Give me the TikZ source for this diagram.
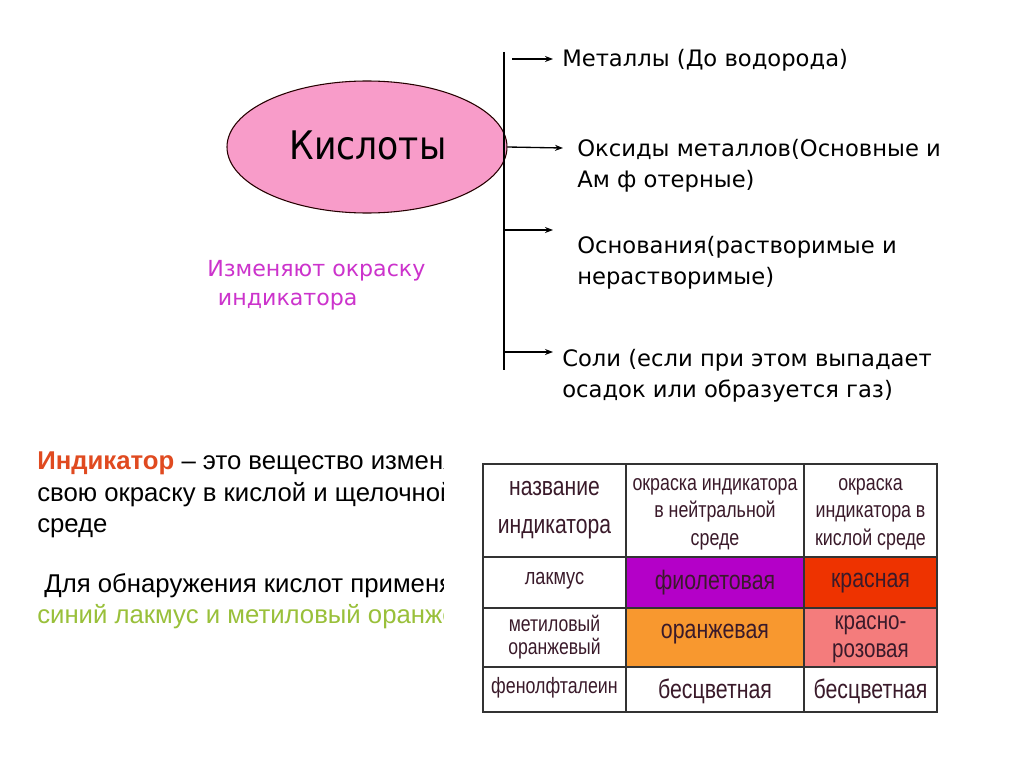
\documentclass[tikz,border=0pt]{standalone}
\usepackage{fontspec}
\setmainfont{Liberation Sans}
\newfontfamily\tah{DejaVu Sans}
\newfontfamily\tahn[FakeStretch=0.88]{DejaVu Sans}
\newfontfamily\nar[FakeStretch=0.8]{Liberation Sans}
\usetikzlibrary{arrows.meta,shapes.geometric}
\definecolor{pinkfill}{HTML}{F89CC9}
\definecolor{magtext}{HTML}{CC33CC}
\definecolor{redtext}{HTML}{E04A20}
\definecolor{greentext}{HTML}{99C03A}
\definecolor{cpurple}{HTML}{B400C8}
\definecolor{cred}{HTML}{EE3300}
\definecolor{corange}{HTML}{F8982F}
\definecolor{cpink}{HTML}{F47C7C}
\definecolor{celltext}{HTML}{3A1A2A}
\tikzset{
  arr/.style={line width=1pt,-{Stealth[length=6pt,width=4.5pt]}},
  rtext/.style={font=\tah\fontsize{17}{23.3}\selectfont,anchor=west,align=left,inner sep=0pt},
  ltext/.style={font=\fontsize{19.3}{23.3}\selectfont,anchor=north west,align=left,inner sep=0pt},
  tcell/.style={font=\nar\fontsize{16}{20}\selectfont,align=center,inner sep=0pt,text=celltext},
  grid/.style={line width=1.5pt,draw=black!80}
}
\begin{document}
\begin{tikzpicture}[x=0.75pt,y=-0.75pt]
\useasboundingbox[fill=white] (0,0) rectangle (1024,767);
% ellipse
\node[ellipse,draw=black!85!red,line width=0.8pt,fill=pinkfill,minimum width=210pt,minimum height=99pt,inner sep=0pt] (k) at (367,147) {};
\node[font=\tahn\fontsize{29.5}{34}\selectfont] (kt) at (368,145) {Кислоты};
% vertical line
\coordinate (vtop) at (504,52);
\coordinate (vbot) at (504,370);
\draw[line width=1pt] (vtop) -- (vbot);
\coordinate (s1) at (512,59); \coordinate (e1) at (553,59);
\coordinate (e2) at (563,148);
\coordinate (s3) at (505,230); \coordinate (e3) at (553,230);
\coordinate (s4) at (505,352); \coordinate (e4) at (553,352);
\draw[arr] (s1) -- (e1);
\draw[arr] (k.east) -- (e2);
\draw[arr] (s3) -- (e3);
\draw[arr] (s4) -- (e4);
\node[rtext] (t1) at (562,60) {Металлы (До водорода)};
\node[rtext,anchor=north west] (t2) at (577,139) {Оксиды металлов(Основные и\\Ам ф отерные)};
\node[rtext,anchor=north west] (t3) at (577,236) {Основания(растворимые и\\нерастворимые)};
\node[rtext,anchor=north west] (t4) at (562,349) {Соли (если при этом выпадает\\осадок или образуется газ)};
% magenta
\node[rtext,anchor=north west,text=magtext,font=\tah\fontsize{16.6}{22}\selectfont] (ch) at (207,260) {Изменяют окраску\\\ \,индикатора};
% left text, clipped
\begin{scope}
\clip (0,430) rectangle (443,650);
\node[ltext] (def) at (37,452) {\textcolor{redtext}{\bfseries Индикатор} – это вещество изменяющее\\свою окраску в кислой и щелочной\\среде};
\node[ltext] (use) at (37,573) {\ Для обнаружения кислот применяют\\\textcolor{greentext}{синий лакмус и метиловый оранжевый}};
\end{scope}
% table
\fill[cpurple] (626,557) rectangle (804,608);
\fill[cred] (804,557) rectangle (937,608);
\fill[corange] (626,608) rectangle (804,667);
\fill[cpink] (804,608) rectangle (937,667);
\draw[grid] (483,464) rectangle (937,712);
\draw[grid] (626,464) -- (626,712);
\draw[grid] (804,464) -- (804,712);
\draw[grid] (483,557) -- (937,557);
\draw[grid] (483,608) -- (937,608);
\draw[grid] (483,667) -- (937,667);
\node[tcell,font=\nar\fontsize{19.8}{29}\selectfont] (h1) at (554.5,510) {название\\индикатора};
\node[tcell,font=\nar\fontsize{16.7}{20.5}\selectfont] (h2) at (715,514) {окраска индикатора\\в нейтральной\\среде};
\node[tcell,font=\nar\fontsize{16.7}{20.5}\selectfont] (h3) at (870.5,514) {окраска\\индикатора в\\кислой среде};
\node[tcell,font=\nar\fontsize{17}{18}\selectfont] (r1) at (554.5,581) {лакмус};
\node[tcell,font=\nar\fontsize{16.5}{17.3}\selectfont] (r2) at (554.5,637) {метиловый\\оранжевый};
\node[tcell,font=\nar\fontsize{16.7}{18}\selectfont] (r3) at (554.5,688) {фенолфталеин};
\node[tcell,font=\nar\fontsize{20}{20}\selectfont] (c22) at (715,583) {фиолетовая};
\node[tcell,font=\nar\fontsize{20}{20}\selectfont] (c32) at (870.5,583) {красная};
\node[tcell,font=\nar\fontsize{20}{20}\selectfont] (c23) at (715,634) {оранжевая};
\node[tcell,font=\nar\fontsize{19.3}{21}\selectfont] (c33) at (870.5,639) {красно-\\розовая};
\node[tcell,font=\nar\fontsize{20}{20}\selectfont] (c24) at (715,691) {бесцветная};
\node[tcell,font=\nar\fontsize{20}{20}\selectfont] (c34) at (870.5,691) {бесцветная};
\end{tikzpicture}
\end{document}
